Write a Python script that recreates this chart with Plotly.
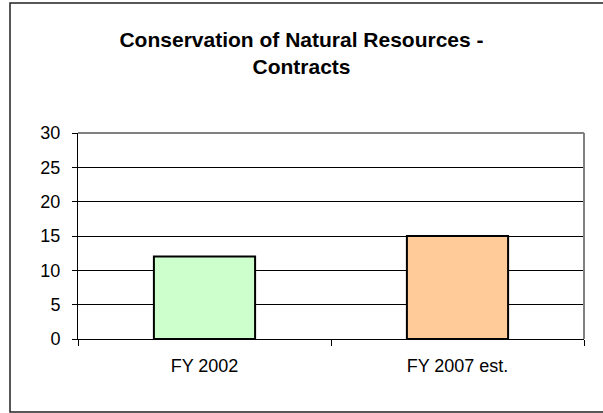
import plotly.graph_objects as go

categories = ["FY 2002", "FY 2007 est."]
values = [12, 15]
bar_colors = ["#CCFFCC", "#FFCC99"]
title_text = "<b>Conservation of Natural Resources -<br>Contracts</b>"

W, H = 603, 413
L, R, T, B = 78, 19, 133, 74
pw, ph = W - L - R, H - T - B

def px_x(x):
    return (x - L) / pw

def px_y(y):
    return 1 - (y - T) / ph

fig = go.Figure()
fig.add_trace(go.Bar(
    x=categories, y=values,
    marker=dict(color=bar_colors, line=dict(color="black", width=2)),
    width=0.4,
))

fig.update_layout(
    width=W, height=H,
    margin=dict(l=L, r=R, t=T, b=B, pad=0),
    paper_bgcolor="white", plot_bgcolor="white",
    font=dict(family="Liberation Sans, Arial, sans-serif", size=18, color="black"),
    showlegend=False,
    title=dict(text=title_text, x=0.5, xanchor="center", xref="container",
               y=1 - 47 / H, yanchor="middle", yref="container",
               font=dict(size=21, color="black")),
    xaxis=dict(
        showline=True, linecolor="black", linewidth=1,
        ticks="outside", ticklen=6, tickcolor="black", tickson="boundaries",
        showgrid=False, ticklabelstandoff=10,
    ),
    yaxis=dict(
        range=[0, 30], dtick=5, tick0=0,
        showline=True, linecolor="black", linewidth=1,
        ticks="outside", ticklen=5, tickcolor="black",
        showgrid=True, gridcolor="black", gridwidth=1,
        zeroline=False, ticklabelstandoff=8,
    ),
    shapes=[
        dict(type="line", xref="paper", yref="paper", x0=0, x1=1, y0=1, y1=1,
             line=dict(color="#808080", width=2), layer="above"),
        dict(type="line", xref="paper", yref="paper", x0=1, x1=1, y0=0, y1=1,
             line=dict(color="#808080", width=2), layer="above"),
        dict(type="rect", xref="paper", yref="paper",
             x0=px_x(10), x1=px_x(640), y0=px_y(412), y1=px_y(3),
             line=dict(color="#222222", width=1.5), fillcolor="rgba(0,0,0,0)",
             layer="below"),
    ],
)

fig.write_html(
    "out.html",
    config={"displayModeBar": False},
    post_script="document.body.style.margin='0';document.body.style.overflow='hidden';",
)
